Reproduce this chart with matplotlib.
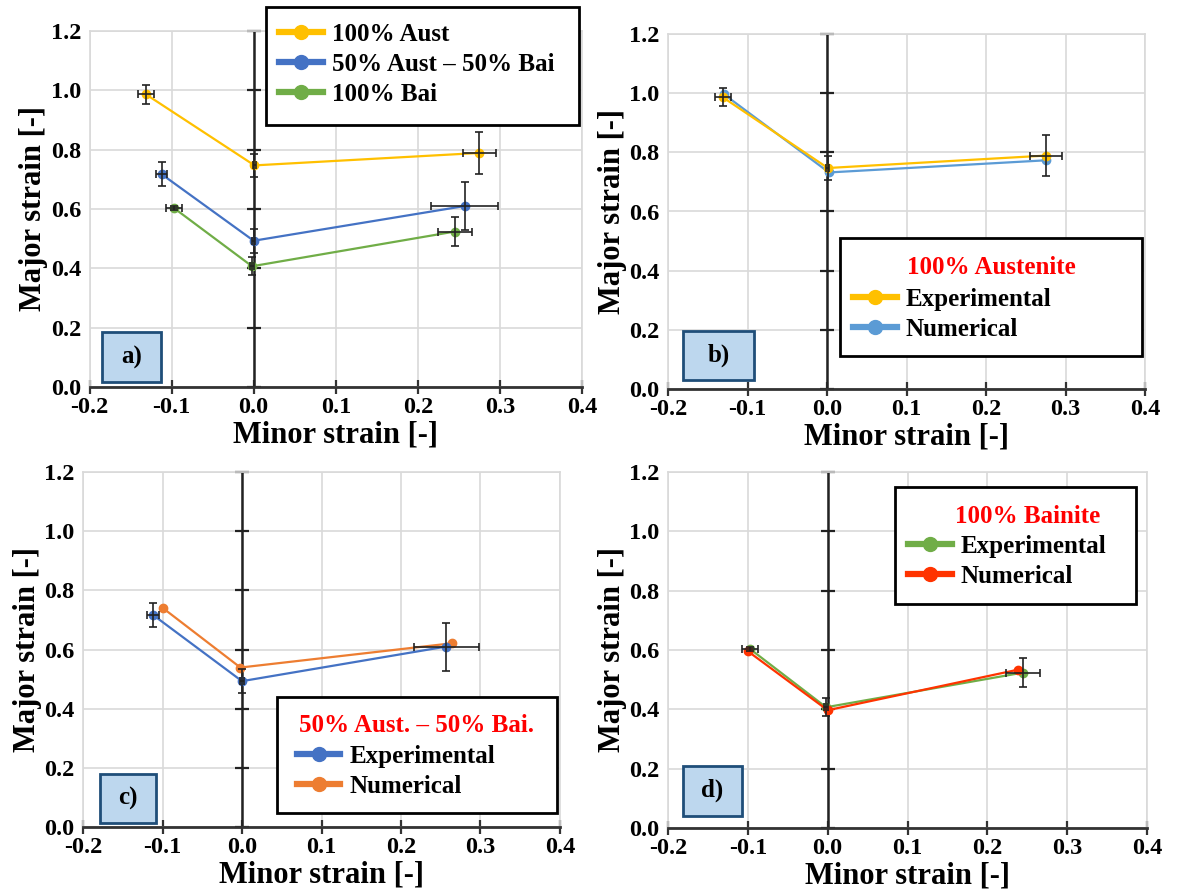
import numpy as np
import matplotlib.pyplot as plt
from matplotlib.lines import Line2D
from matplotlib.patches import Rectangle

plt.rcParams['font.family'] = ['Liberation Serif', 'DejaVu Serif']
plt.rcParams['font.weight'] = 'bold'

# --- data (minor strain, major strain, error bars) ---
# a) experimental, three microstructures
aust_x = [-0.131, 0.001, 0.275]
aust_y = [0.986, 0.747, 0.789]
aust_xerr = [0.010, 0.002, 0.020]
aust_yerr = [0.031, 0.040, 0.070]

mix_x = [-0.112, 0.000, 0.257]
mix_y = [0.717, 0.493, 0.610]
mix_xerr = [0.007, 0.002, 0.041]
mix_yerr = [0.040, 0.040, 0.081]

bai_x = [-0.097, -0.002, 0.245]
bai_y = [0.603, 0.407, 0.524]
bai_xerr = [0.010, 0.002, 0.021]
bai_yerr = [0.006, 0.030, 0.050]

# numerical results
num_aust_x = [-0.130, 0.0025, 0.275]
num_aust_y = [0.997, 0.732, 0.773]
num_mix_x = [-0.099, -0.002, 0.264]
num_mix_y = [0.739, 0.539, 0.621]
num_bai_x = [-0.100, 0.000, 0.239]
num_bai_y = [0.596, 0.397, 0.534]

yticks = [0.0, 0.2, 0.4, 0.6, 0.8, 1.0, 1.2]
xticks = [-0.2, -0.1, 0.0, 0.1, 0.2, 0.3, 0.4]

c_yel = '#FFC000'
c_blue = '#4472C4'
c_green = '#70AD47'
c_orange = '#ED7D31'
c_lblue = '#5B9BD5'
c_red = '#FF3300'

W, H = 1189, 890
fig = plt.figure(figsize=(W / 100, H / 100), dpi=100)


def px_axes(left, right, bottom, top):
    return fig.add_axes([left / W, 1 - bottom / H, (right - left) / W, (bottom - top) / H])


def setup(ax):
    ax.set_xlim(-0.2, 0.4)
    ax.set_ylim(0, 1.2)
    ax.set_xticks(xticks)
    ax.set_yticks(yticks)
    ax.set_xticklabels(['%.1f' % v for v in xticks])
    ax.set_yticklabels(['%.1f' % v for v in yticks])
    ax.grid(True, color='#D9D9D9', lw=1.2)
    ax.set_axisbelow(True)
    for s in ['left', 'top', 'right']:
        ax.spines[s].set_color('#D9D9D9')
        ax.spines[s].set_linewidth(1.2)
    ax.spines['bottom'].set_color('#333333')
    ax.spines['bottom'].set_linewidth(2)
    ax.tick_params(axis='x', direction='inout', length=10, width=1.6,
                   color='#333333', labelsize=17.5, pad=2)
    ax.tick_params(axis='y', length=0, labelsize=17.5, pad=6)
    # vertical axis crossing at minor strain = 0
    ax.axvline(0, color='#222222', lw=1.8, zorder=2)
    ax.plot(np.zeros(len(yticks)), yticks, ls='none', marker='_', ms=10,
            mew=1.6, color='#222222', clip_on=False, zorder=2)
    ax.set_xlabel('Minor strain [-]', fontsize=22, fontweight='bold', labelpad=2)
    ax.set_ylabel('Major strain [-]', fontsize=22, fontweight='bold', labelpad=2)


def series(ax, x, y, color, xerr=None, yerr=None, z=3):
    ax.plot(x, y, color=color, lw=1.6, marker='o', ms=6, zorder=z)
    if xerr is not None:
        ax.errorbar(x, y, xerr=xerr, yerr=yerr, fmt='none', ecolor='#222222',
                    elinewidth=1.2, capsize=3, capthick=1.2, zorder=z + 2)


def tag(ax, text, x0, x1, y0, y1):
    ax.add_patch(Rectangle((x0, y0), x1 - x0, y1 - y0, transform=ax.transAxes,
                           facecolor='#BDD7EE', edgecolor='#1F4E79', lw=2, zorder=6))
    ax.text((x0 + x1) / 2, (y0 + y1) / 2, text, transform=ax.transAxes,
            ha='center', va='center', fontsize=18, fontweight='bold', zorder=7)


def box_legend(ax, names, colors, x0, x1, y0, y1, hx, ymid, title=None, ty=None, tx=None):
    ax.add_patch(Rectangle((x0, y0), x1 - x0, y1 - y0, transform=ax.transAxes,
                           facecolor='white', edgecolor='black', lw=2,
                           clip_on=False, zorder=8))
    if title:
        ax.text(tx if tx is not None else (x0 + x1) / 2, ty, title, transform=ax.transAxes,
                ha='center', va='center', color='#FF0000', fontsize=18,
                fontweight='bold', zorder=9)
    handles = [Line2D([0], [0], color=c, lw=4.5, marker='o', ms=10) for c in colors]
    leg = ax.legend(handles, names, loc='center left', bbox_to_anchor=(hx, ymid),
                    frameon=False, handlelength=1.75, handletextpad=0.35,
                    labelspacing=0.28, borderpad=0, borderaxespad=0,
                    prop={'weight': 'bold', 'size': 18})
    leg.set_zorder(10)


# a)
ax = px_axes(89.5, 582, 387, 31)
setup(ax)
series(ax, aust_x, aust_y, c_yel, aust_xerr, aust_yerr)
series(ax, mix_x, mix_y, c_blue, mix_xerr, mix_yerr)
series(ax, bai_x, bai_y, c_green, bai_xerr, bai_yerr)
tag(ax, 'a)', 0.025, 0.145, 0.014, 0.154)
box_legend(ax, ['100% Aust', '50% Aust \u2013 50% Bai', '100% Bai'],
           [c_yel, c_blue, c_green], 0.358, 0.994, 0.736, 1.068, 0.385, 0.906)

# b)
ax = px_axes(668, 1145, 389, 34)
setup(ax)
series(ax, num_aust_x, num_aust_y, c_lblue)
series(ax, aust_x, aust_y, c_yel, aust_xerr, aust_yerr, z=4)
tag(ax, 'b)', 0.031, 0.180, 0.025, 0.164)
box_legend(ax, ['Experimental', 'Numerical'], [c_yel, c_lblue],
           0.361, 0.993, 0.093, 0.425, 0.388, 0.211,
           title='100% Austenite', ty=0.341)

# c)
ax = px_axes(83, 560, 827, 472)
setup(ax)
series(ax, num_mix_x, num_mix_y, c_orange)
series(ax, mix_x, mix_y, c_blue, mix_xerr, mix_yerr, z=4)
tag(ax, 'c)', 0.036, 0.153, 0.012, 0.149)
box_legend(ax, ['Experimental', 'Numerical'], [c_blue, c_orange],
           0.406, 0.993, 0.039, 0.367, 0.448, 0.157,
           title='50% Aust. \u2013 50% Bai.', ty=0.285)

# d)
ax = px_axes(668, 1147, 828, 472)
setup(ax)
series(ax, bai_x, bai_y, c_green, bai_xerr, bai_yerr, z=3)
series(ax, num_bai_x, num_bai_y, c_red, z=4)
tag(ax, 'd)', 0.031, 0.155, 0.035, 0.175)
box_legend(ax, ['Experimental', 'Numerical'], [c_green, c_red],
           0.474, 0.978, 0.628, 0.959, 0.502, 0.748,
           title='100% Bainite', ty=0.874, tx=0.75)

fig.savefig('out.png', dpi=100)
